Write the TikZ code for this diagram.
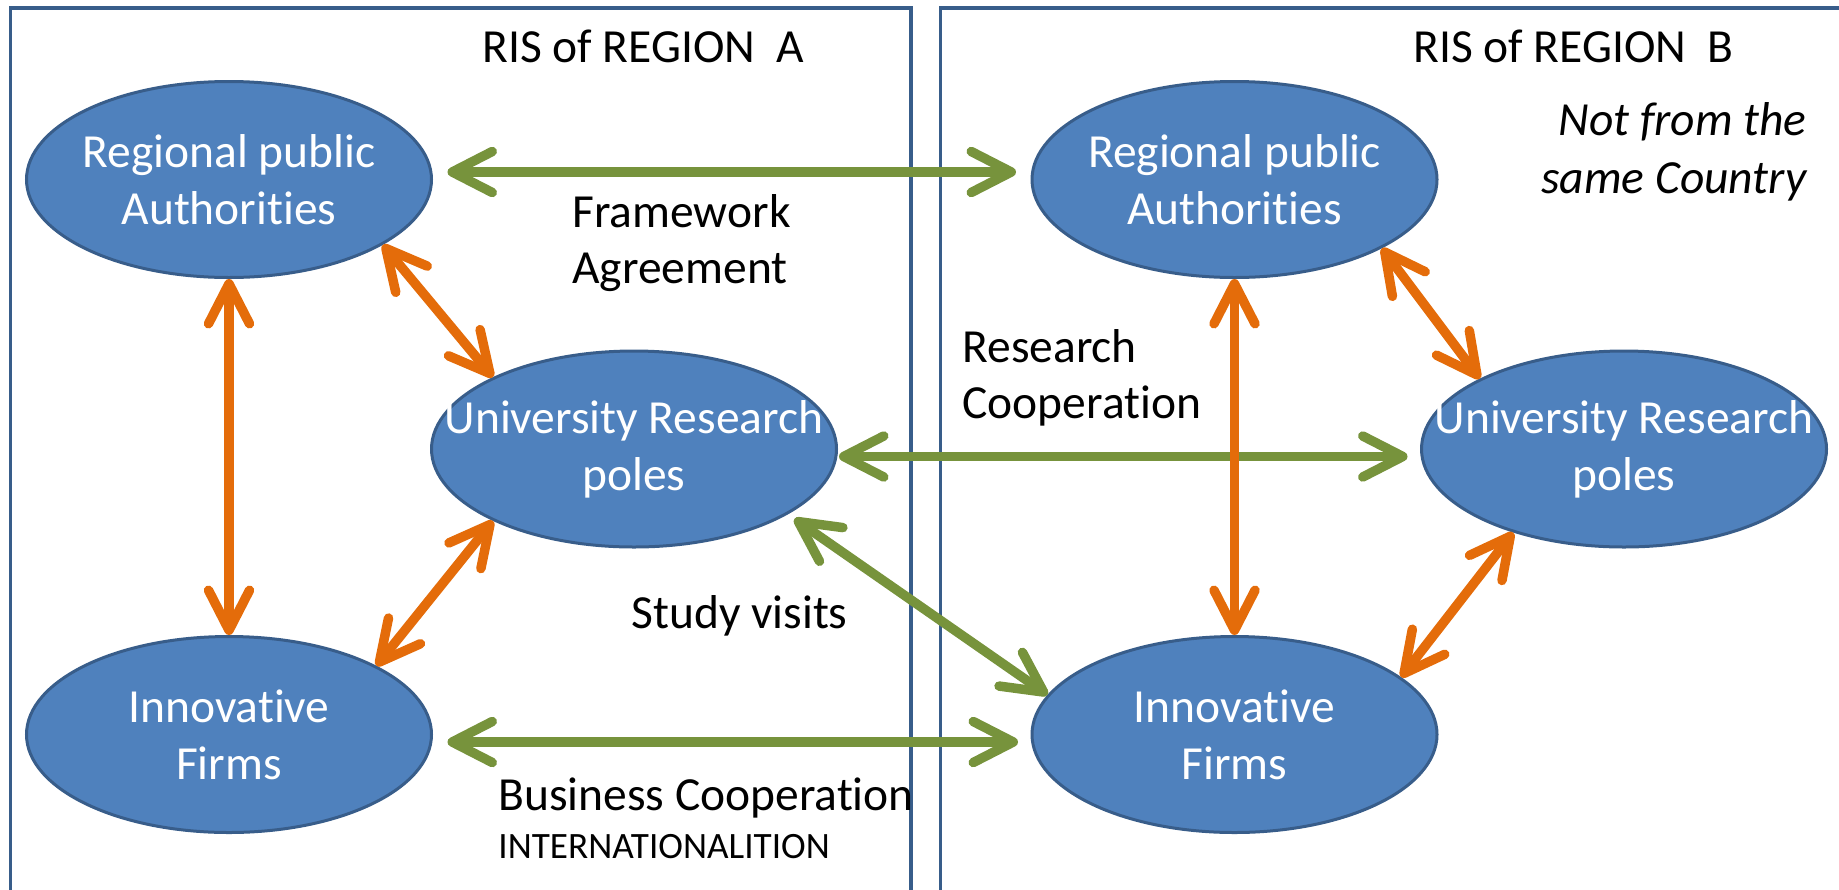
\documentclass[tikz,border=0pt]{standalone}
\usepackage{fontspec}
\setmainfont[RawFeature={-liga;-clig;-calt;-dlig}]{Carlito}
\usetikzlibrary{arrows.meta,shapes.geometric}
\definecolor{blobfill}{HTML}{4F81BD}
\definecolor{blobline}{HTML}{385D8A}
\definecolor{linkorange}{HTML}{E46C0A}
\definecolor{linkgreen}{HTML}{77933C}
\begin{document}
\begin{tikzpicture}[x=0.5pt,y=-0.5pt,
    >={Straight Barb[length=20pt,width=20.5pt,round]},
    blob/.style={ellipse, draw=blobline, line width=1.5pt, fill=blobfill, minimum width=202.5pt, minimum height=98pt, inner sep=0pt},
    blobtext/.style={text=white, align=center, font=\fontsize{23.75}{28.5}\selectfont},
    region/.style={draw=blobline, line width=1.75pt},
    note/.style={anchor=base west, align=left, inner sep=0pt, font=\fontsize{23.75}{28}\selectfont},
    orangelink/.style={draw=linkorange, line width=4.75pt, <->},
    greenlink/.style={orangelink, draw=linkgreen}]
    \useasboundingbox (0,0) rectangle (1839,889);
    \draw[region] (10.5,8) rectangle (911,900);
    \draw[region] (940.5,8) rectangle (1850,900);
    \node[blob, label={[blobtext]center:Regional public\\Authorities}] (regA) at (229,179.5) {};
    \node[blob, label={[blobtext]center:University Research\\poles}] (uniA) at (634,449) {};
    \node[blob, label={[blobtext]center:Innovative\\Firms}] (innA) at (229,734.5) {};
    \node[blob, label={[blobtext]center:Regional public\\Authorities}] (regB) at (1234.5,179.5) {};
    \node[blob, label={[blobtext]center:University Research\\poles}] (uniB) at (1624,449) {};
    \node[blob, label={[blobtext]center:Innovative\\Firms}] (innB) at (1234.5,734.5) {};
    \draw[greenlink] ([xshift=7.25pt,yshift=3.75pt]regA.east) -- ([xshift=-7.25pt,yshift=3.75pt]regB.west);
    \draw[greenlink] ([xshift=0.5pt,yshift=-3.75pt]uniA.east) -- ([xshift=-6.25pt,yshift=-3.75pt]uniB.west);
    \draw[greenlink, shorten <=4pt] (uniA.-23.5) -- (innB.168.8);
    \draw[greenlink] ([xshift=7.25pt,yshift=-3.75pt]innA.east) -- ([xshift=-6.25pt,yshift=-3.75pt]innB.west);
    \draw[orangelink] (regA.south) -- (innA.north);
    \draw[orangelink] (regA.-23.4) -- (uniA.153.8);
    \draw[orangelink] (uniA.-153.8) -- (innA.25.1);
    \draw[orangelink] (regB.south) -- (innB.north);
    \draw[orangelink] (regB.-25.5) -- (uniB.154.1);
    \draw[orangelink] (uniB.-143) -- (innB.19.2);
    \node[note] (titleA) at (482,62) {RIS of REGION\ \ A};
    \node[note] (titleB) at (1413,62) {RIS of REGION\ \ B};
    \node[note, anchor=base east, align=right, font=\fontsize{23.75}{29}\selectfont\itshape] (country) at (1807,193) {Not from the\\same Country};
    \node[note] (framework) at (572,283) {Framework\\Agreement};
    \node[note] (research) at (962,418) {Research\\Cooperation};
    \node[note] (study) at (631,628) {Study visits};
    \node[note] (business) at (498,810) {Business Cooperation};
    \node[note, font=\fontsize{18.6}{22}\selectfont] (inter) at (498,858) {INTERNATIONALITION};
\end{tikzpicture}
\end{document}
